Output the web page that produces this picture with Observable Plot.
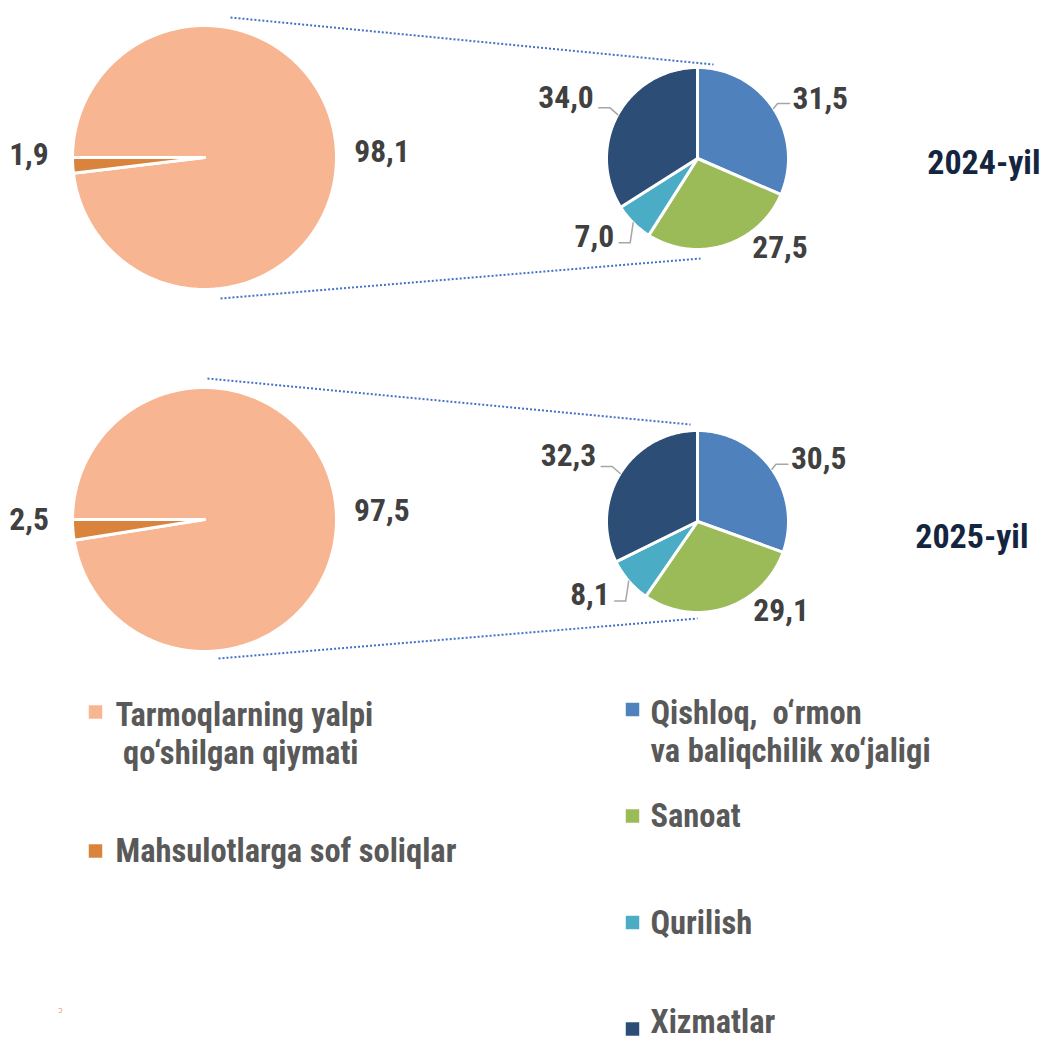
<!DOCTYPE html>
<html><head><meta charset="utf-8">
<script src="https://cdn.jsdelivr.net/npm/d3@7"></script>
<script src="https://cdn.jsdelivr.net/npm/@observablehq/plot@0.6"></script>
<style>body{margin:0;background:#fff} svg{display:block}</style>
</head><body><div id="chart"></div>
<script>
// ---------------- data ----------------
const years = ["2024-yil", "2025-yil"];
const mainCategories = ["Tarmoqlarning yalpi qo‘shilgan qiymati", "Mahsulotlarga sof soliqlar"];
const mainValues2024 = [98.1, 1.9];
const mainValues2025 = [97.5, 2.5];
const sectorCategories = ["Qishloq, o‘rmon va baliqchilik xo‘jaligi", "Sanoat", "Qurilish", "Xizmatlar"];
const sectorValues2024 = [31.5, 27.5, 7.0, 34.0];
const sectorValues2025 = [30.5, 29.1, 8.1, 32.3];
const mainLegendLines = [["Tarmoqlarning yalpi", "\u00a0qo‘shilgan qiymati"], ["Mahsulotlarga sof soliqlar"]];
const sectorLegendLines = [["Qishloq,\u00a0\u00a0o‘rmon", "va baliqchilik xo‘jaligi"], ["Sanoat"], ["Qurilish"], ["Xizmatlar"]];

// ---------------- styles / layout ----------------
const mainColors = ["#F8B592", "#DA833C"];
const sectorColors = ["#4F81BD", "#9BBB59", "#4BACC6", "#2C4D75"];
const W = 1044, H = 1041;
const FONT = "'Roboto Condensed', Roboto, 'Liberation Sans Narrow', sans-serif";
const bigCx = 204, bigR = 132, smallCx = 697, smallR = 91;
const panels = [
  {year: years[0], main: mainValues2024, sector: sectorValues2024, cy: 157, cy2: 158,
   title: [1040, 173], conn: [[230, 17, 713, 64], [220, 298, 700, 258]]},
  {year: years[1], main: mainValues2025, sector: sectorValues2025, cy: 519, cy2: 521,
   title: [1028, 547], conn: [[207, 378, 690, 424], [218, 658, 697, 618]]}
];
// label placement rules relative to the slice's mid-angle edge point
const sectorLabelRules = [
  {leader: [[4, -5], [16, -5]], anchor: "start", dx: 19, dy: 0},
  {leader: null, anchor: "start", dx: 28, dy: 13},
  {leader: [[-3, 20], [-14, 20]], anchor: "end", dx: -19, dy: 24},
  {leader: [[-8, -7], [-19, -7]], anchor: "end", dx: -24, dy: -7}
];
const mainLabelRules = [
  {anchor: "start", dx: 18, dy: 12},
  {anchor: "end", dx: -24, dy: 0}
];
const fmt = v => d3.format(".1f")(v).replace(".", ",");

const slices = [], labels = [], leaders = [], connectors = [], titles = [];
function addPie(values, cats, cx, cy, r, start, key, rules) {
  const arcs = d3.pie().sort(null).startAngle(start).endAngle(start + 2 * Math.PI)(values);
  arcs.forEach((a, i) => {
    const id = key + i;
    slices.push({id, cat: cats[i], x: cx, y: cy});
    const n = Math.max(4, Math.ceil((a.endAngle - a.startAngle) / (Math.PI / 180)));
    for (let k = 0; k <= n; k++) {
      const t = a.startAngle + (a.endAngle - a.startAngle) * k / n;
      slices.push({id, cat: cats[i], x: cx + r * Math.sin(t), y: cy - r * Math.cos(t)});
    }
    slices.push({id, cat: cats[i], x: cx, y: cy});
    const m = (a.startAngle + a.endAngle) / 2;
    const ex = cx + r * Math.sin(m), ey = cy - r * Math.cos(m);
    const rule = rules[i];
    labels.push({x: ex + rule.dx, y: ey + rule.dy, text: fmt(values[i]), anchor: rule.anchor});
    if (rule.leader) {
      leaders.push({id: id + "L", x: ex, y: ey});
      rule.leader.forEach(([ox, oy]) => leaders.push({id: id + "L", x: ex + ox, y: ey + oy}));
    }
  });
}
panels.forEach((p, j) => {
  addPie(p.main, mainCategories, bigCx, p.cy, bigR, -Math.PI / 2, "m" + j, mainLabelRules);
  addPie(p.sector, sectorCategories, smallCx, p.cy2, smallR, 0, "s" + j, sectorLabelRules);
  p.conn.forEach(([x1, y1, x2, y2]) => connectors.push({x1, y1, x2, y2}));
  titles.push({x: p.title[0], y: p.title[1], text: p.year});
});

// legend
const LEG_FS = 32.5, LEG_LH = 1.17;
const legendItems = [];
mainLegendLines.forEach((lines, i) => legendItems.push({cat: mainCategories[i], lines, sx: 95, sy: 711.5 + i * 139, tx: 115}));
sectorLegendLines.forEach((lines, i) => legendItems.push({cat: sectorCategories[i], lines, sx: 632, sy: 709 + i * 106.5, tx: 650}));
const legendText = legendItems.map(it => {
  const first = it.sy + 11 + (it.lines.length > 1 ? 3 : 0);
  const last = first + (it.lines.length - 1) * LEG_FS * LEG_LH;
  return {x: it.tx, y: Math.min(H - 9, last), text: it.lines.join("\n")};
});

const labelStyle = {x: "x", y: "y", text: "text", lineAnchor: "bottom",
  fontFamily: FONT, fontWeight: 700, fontSize: 31.5, fill: "#404040"};
const chart = Plot.plot({
  width: W, height: H, margin: 0,
  x: {domain: [0, W], range: [0, W], axis: null},
  y: {domain: [0, H], range: [0, H], axis: null},
  color: {domain: [...mainCategories, ...sectorCategories], range: [...mainColors, ...sectorColors]},
  marks: [
    Plot.link(connectors, {x1: "x1", y1: "y1", x2: "x2", y2: "y2", stroke: "#4472C4", strokeWidth: 2, strokeDasharray: "2,2"}),
    Plot.line(slices, {x: "x", y: "y", z: "id", fill: "cat", stroke: "white", strokeWidth: 3, strokeLinejoin: "round"}),
    Plot.line(leaders, {x: "x", y: "y", z: "id", stroke: "#A6A6A6", strokeWidth: 1.5}),
    Plot.text(labels.filter(d => d.anchor === "start"), {...labelStyle, textAnchor: "start"}),
    Plot.text(labels.filter(d => d.anchor === "end"), {...labelStyle, textAnchor: "end"}),
    Plot.text(titles, {x: "x", y: "y", text: "text", textAnchor: "end", lineAnchor: "bottom",
      fontFamily: FONT, fontWeight: 700, fontSize: 34, fill: "#13253F"}),
    Plot.dot(legendItems, {x: "sx", y: "sy", fill: "cat", symbol: "square", r: 7.6}),
    Plot.text(legendText, {x: "x", y: "y", text: "text", textAnchor: "start", lineAnchor: "bottom",
      lineHeight: LEG_LH, fontFamily: FONT, fontWeight: 700, fontSize: LEG_FS, fill: "#595959"}),
    Plot.text(["ɔ"], {x: 60, y: 1010, fontSize: 9, fill: "#F4A582"})
  ]
});
document.getElementById("chart").appendChild(chart);
</script>
</body></html>
